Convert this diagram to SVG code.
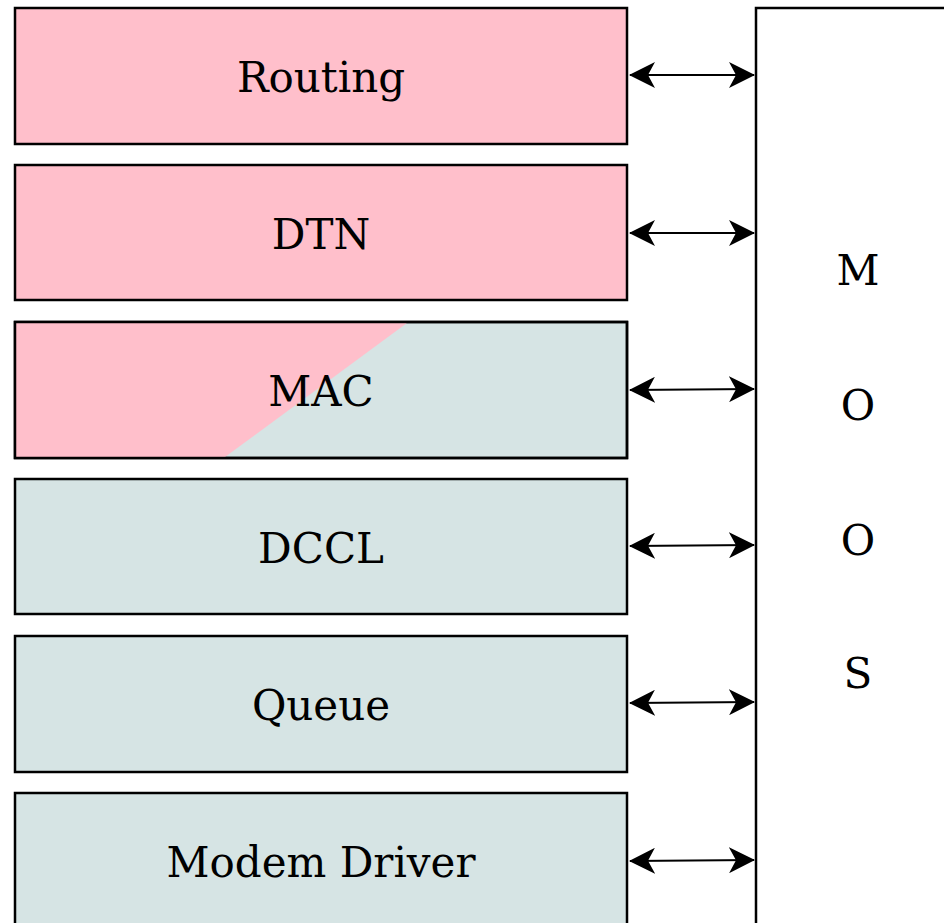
<svg xmlns="http://www.w3.org/2000/svg" width="944" height="923" viewBox="0 0 944 923">
<defs>
<style>
.box{stroke:#000;stroke-width:2.5}
.pink{fill:#FFBFCB}
.grey{fill:#D6E4E4}
.lbl{font-family:"DejaVu Serif",serif;font-size:42px;fill:#000;text-anchor:middle}
.conn{stroke:#000;stroke-width:2;fill:none;marker-start:url(#ah);marker-end:url(#ah)}
</style>
<marker id="ah" viewBox="0 0 26 26" refX="25" refY="13" markerWidth="26" markerHeight="26" markerUnits="userSpaceOnUse" orient="auto-start-reverse">
<path d="M0,0 L26,13 L0,26 L7,13 Z" fill="#000"/>
</marker>
</defs>
<rect width="944" height="923" fill="#fff"/>
<g id="moos">
<rect class="box" x="756" y="8" width="200" height="930" fill="#fff"/>
<text class="lbl" x="858" y="285">M</text>
<text class="lbl" x="858" y="420">O</text>
<text class="lbl" x="858" y="555">O</text>
<text class="lbl" x="858" y="688">S</text>
</g>
<g id="routing">
<rect class="box pink" x="15" y="8" width="612" height="136"/>
<text class="lbl" x="321" y="92">Routing</text>
</g>
<g id="dtn">
<rect class="box pink" x="15" y="165" width="612" height="135"/>
<text class="lbl" x="321" y="249">DTN</text>
</g>
<g id="mac">
<rect class="box grey" x="15" y="322" width="612" height="136"/>
<polygon class="pink" points="16,323 407,323 225,457 16,457"/>
<rect x="15" y="322" width="612" height="136" fill="none" stroke="#000" stroke-width="2.5"/>
<text class="lbl" x="321" y="406">MAC</text>
</g>
<g id="dccl">
<rect class="box grey" x="15" y="479" width="612" height="135"/>
<text class="lbl" x="321" y="563">DCCL</text>
</g>
<g id="queue">
<rect class="box grey" x="15" y="636" width="612" height="136"/>
<text class="lbl" x="321" y="720">Queue</text>
</g>
<g id="modem">
<rect class="box grey" x="15" y="793" width="612" height="150"/>
<text class="lbl" x="321" y="877">Modem Driver</text>
</g>
<g id="connectors">
<line class="conn" x1="630" y1="75" x2="754" y2="75"/>
<line class="conn" x1="630" y1="233" x2="754" y2="233"/>
<line class="conn" x1="630" y1="390" x2="754" y2="389"/>
<line class="conn" x1="630" y1="546" x2="754" y2="545"/>
<line class="conn" x1="630" y1="703" x2="754" y2="702"/>
<line class="conn" x1="630" y1="861" x2="754" y2="860"/>
</g>
</svg>
